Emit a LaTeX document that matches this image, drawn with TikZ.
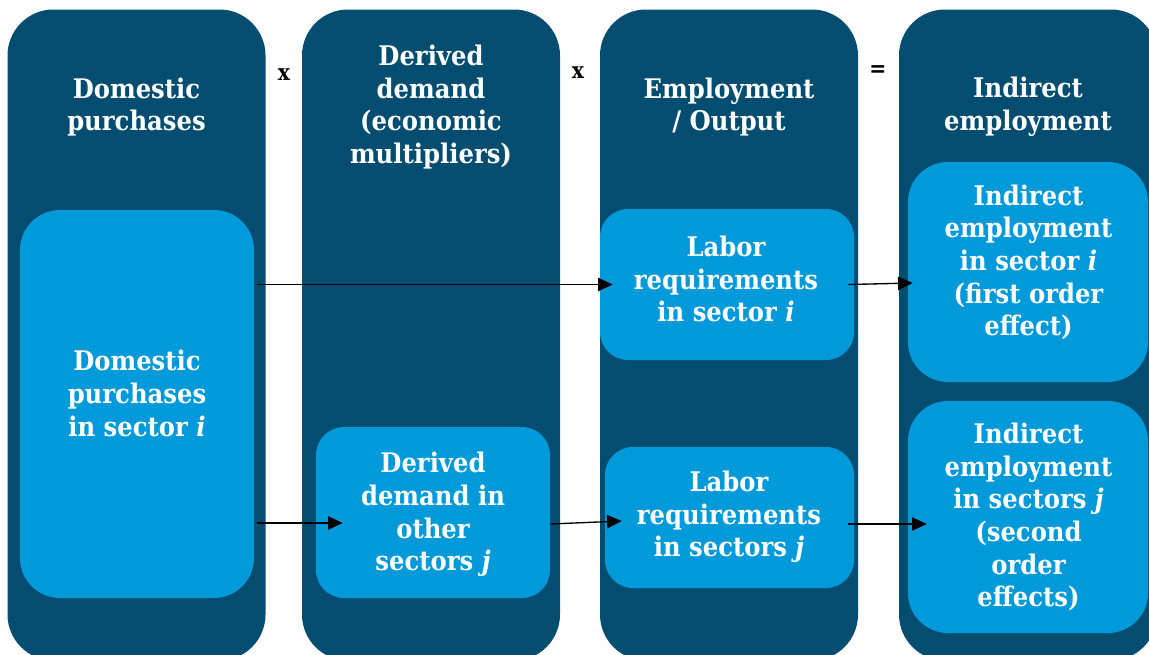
\documentclass[tikz,border=0pt]{standalone}
\usepackage{fontspec}
\setmainfont{DejaVu Serif}[FakeStretch=0.9]
\usetikzlibrary{arrows.meta,calc}
\definecolor{colnavy}{RGB}{3,77,113}
\definecolor{boxblue}{RGB}{0,154,219}
\newdimen\upx \upx=0.75pt
\begin{document}
\begin{tikzpicture}[x=0.75pt,y=-0.75pt,
  column/.style={rectangle, rounded corners=46\upx, fill=colnavy, draw=none,
    inner sep=0pt, minimum width=258\upx, minimum height=651\upx},
  bigbox/.style={rectangle, rounded corners=40\upx, fill=boxblue, draw=none, inner sep=0pt},
  smallbox/.style={rectangle, rounded corners=28\upx, fill=boxblue, draw=none, inner sep=0pt},
  lbl/.style={text=white, align=center, inner sep=0pt,
    font=\fontsize{20.25}{24.5}\selectfont\bfseries},
  sign/.style={text=black, inner sep=0pt, font=\fontsize{17}{20}\selectfont\bfseries},
  flow/.style={draw=black, line width=1pt, -{Triangle[length=11pt,width=10pt]}}]
\clip (0,0) rectangle (1149,654);

% four stage columns
\node[column] (col1) at (136.5,335) {};
\node[column] (col2) at (431,335) {};
\node[column] (col3) at (729,335) {};
\node[column] (col4) at (1028,335) {};

% column headings
\node[lbl] (h1) at (136.5,107) {Domestic\\purchases};
\node[lbl] (h2) at (431,107) {Derived\\demand\\(economic\\multipliers)};
\node[lbl] (h3) at (729,107) {Employment\\/ Output};
\node[lbl] (h4) at (1028,107) {Indirect\\employment};

% operators between columns
\node[sign] (op1) at (284,75) {x};
\node[sign] (op2) at (578,73) {x};
\node[sign] (op3) at (878,71) {=};

% inner boxes
\node[bigbox, minimum width=234\upx, minimum height=388\upx] (A) at (137,404) {};
\node[smallbox, minimum width=234\upx, minimum height=171\upx] (B) at (433,512.5) {};
\node[smallbox, minimum width=254\upx, minimum height=151\upx] (C) at (727,284.5) {};
\node[smallbox, minimum width=249\upx, minimum height=141\upx] (D) at (729.5,517.5) {};
\node[bigbox, minimum width=240\upx, minimum height=220\upx] (E) at (1028,272) {};
\node[bigbox, minimum width=240\upx, minimum height=232\upx] (F) at (1028,517) {};

% box texts
\node[lbl] (tA) at (137,393.5) {Domestic\\purchases\\in sector \textit{i}};
\node[lbl] (tB) at (433,514.5) {Derived\\demand in\\other\\sectors \textit{j}};
\node[lbl] (tC) at (726,279) {Labor\\requirements\\in sector \textit{i}};
\node[lbl] (tD) at (729,517) {Labor\\requirements\\in sectors \textit{j}};
\node[lbl] (tE) at (1028.5,262.5) {Indirect\\employment\\in sector \textit{i}\\(first order\\effect)};
\node[lbl] (tF) at (1028.5,517) {Indirect\\employment\\in sectors \textit{j}\\(second\\order\\effects)};

% flows
\draw[flow] ($(A.east |- C.west)+(3,0)$) -- ($(C.west)+(13,0)$);
\draw[flow] ($(C.east)+(-6,0)$) -- ($(E.west |- C.east)+(5,-1.5)$);
\draw[flow] ($(A.east)+(3,119)$) -- ($(B.west)+(27,10.5)$);
\draw[flow] ($(B.east)+(0,11.5)$) -- ($(D.west)+(17,3.5)$);
\draw[flow] ($(D.east)+(-6,6.5)$) -- ($(F.west)+(19,7)$);
\end{tikzpicture}
\end{document}
